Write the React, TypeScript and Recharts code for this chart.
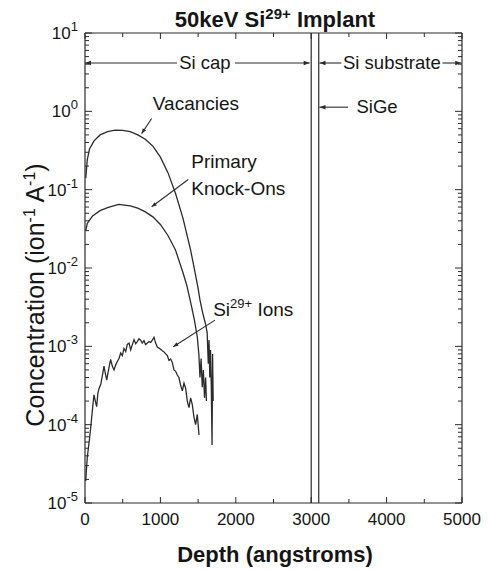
import React from 'react';
import { LineChart, Line, XAxis, YAxis, ReferenceLine, ReferenceDot } from 'recharts';

// ---------- axis structure ----------
const xTicks = [0, 1000, 2000, 3000, 4000, 5000];
const xMinorTicks = [500, 1500, 2500, 3500, 4500];
const yDecades = [1e-5, 1e-4, 1e-3, 1e-2, 1e-1, 1, 10];
const yDecadeLabels = ['-5', '-4', '-3', '-2', '-1', '0', '1'];
const yMinorMultipliers = [2, 3, 4, 5, 6, 7, 8, 9];
const yMinorTicks = yDecades.slice(0, -1).flatMap((d) => yMinorMultipliers.map((m) => m * d));

// ---------- series ----------
const vacDepth = [10, 30, 60, 120, 200, 300, 400, 500, 600, 700, 800, 900, 1000, 1100, 1200, 1300, 1400, 1450, 1500, 1525, 1560, 1600, 1620, 1635, 1645, 1655, 1665, 1675, 1685, 1692, 1700];
const vacConc = [0.14, 0.24, 0.33, 0.42, 0.5, 0.55, 0.575, 0.57, 0.55, 0.5, 0.44, 0.36, 0.26, 0.165, 0.09, 0.043, 0.017, 0.0098, 0.0055, 0.0039, 0.0027, 0.0019, 0.0015, 0.0006, 0.0012, 0.0004, 0.0009, 0.0003, 0.000055, 0.0008, 0.0002];

const pkoDepth = [10, 30, 100, 200, 300, 400, 450, 500, 600, 700, 800, 900, 1000, 1100, 1200, 1300, 1350, 1400, 1450, 1490, 1510, 1525, 1540, 1555, 1570, 1585, 1600, 1610];
const pkoConc = [0.03, 0.037, 0.046, 0.054, 0.059, 0.063, 0.065, 0.064, 0.062, 0.058, 0.052, 0.045, 0.036, 0.026, 0.017, 0.0087, 0.006, 0.0037, 0.0022, 0.0013, 0.0008, 0.0004, 0.0007, 0.0003, 0.0005, 0.00022, 0.0004, 0.0002];

const ionDepth = [9, 31, 55, 75, 100, 119, 137, 155, 170, 186, 210, 230, 252, 270, 288, 315, 340, 362, 385, 407, 429, 451, 473, 495, 517, 540, 561, 584, 606, 628, 650, 672, 694, 716, 738, 760, 782, 804, 826, 849, 871, 893, 915, 937, 959, 981, 1003, 1025, 1048, 1070, 1092, 1114, 1136, 1158, 1180, 1202, 1224, 1246, 1268, 1291, 1313, 1335, 1357, 1379, 1401, 1423, 1445, 1467, 1489, 1512];
const ionConc = [1.9e-5, 3.9e-5, 6e-5, 9e-5, 1.6e-4, 2.4e-4, 2.0e-4, 1.7e-4, 2.5e-4, 2.9e-4, 3.3e-4, 4.2e-4, 5.6e-4, 4.5e-4, 3.7e-4, 5.2e-4, 6.8e-4, 5.6e-4, 5.0e-4, 5.8e-4, 6.4e-4, 7.0e-4, 8.2e-4, 7.6e-4, 9.4e-4, 8.6e-4, 1.06e-3, 1.1e-3, 9.0e-4, 1.05e-3, 1.22e-3, 1.08e-3, 1.15e-3, 1.25e-3, 1.2e-3, 1.1e-3, 1.18e-3, 1.05e-3, 1.1e-3, 1.15e-3, 1.12e-3, 1.2e-3, 1.3e-3, 1.1e-3, 9.8e-4, 9.5e-4, 9.2e-4, 8.8e-4, 8.5e-4, 8.0e-4, 7.6e-4, 6.6e-4, 6.9e-4, 6.2e-4, 5.0e-4, 4.8e-4, 4.3e-4, 4.0e-4, 3.2e-4, 2.7e-4, 3.4e-4, 2.9e-4, 2.0e-4, 1.65e-4, 2.2e-4, 1.8e-4, 1.25e-4, 1.0e-4, 1.35e-4, 7.4e-5];

// ---------- layers & annotations (data coordinates) ----------
const layerBoundaries = [3000, 3100];
const capArrowY = 4.14;
const capLeft = [0, 1220];
const capRight = [1990, 2980];
const capLabel = { x: 1590, text: 'Si cap' };
const subLeft = [3110, 3400];
const subRight = [4740, 4990];
const subLabel = { x: 4070, text: 'Si substrate' };
const sigeY = 1.13;
const sigeArrow = [3490, 3110];
const sigeLabel = { x: 3600, text: 'SiGe' };

const vacPointer = { from: [884, 0.81], to: [751, 0.52] };
const vacText = { x: 900, y: 1.05, text: 'Vacancies' };
const pkoPointer = { from: [1370, 0.135], to: [884, 0.0605] };
const pkoText = { x: 1410, y: 0.19, line1: 'Primary', line2: 'Knock-Ons' };
const ionPointer = { from: [1724, 0.00216], to: [1171, 0.00099] };
const ionText = { x: 1700, y: 0.00245, base: 'Si', sup: '29+', rest: ' Ions' };

const W = 488;
const H = 570;
const FONT = '"Liberation Sans", Arial, Helvetica, sans-serif';
const INK = '#2b2b2b';
const TXT = '#151515';

const toXY = (xs: number[], ys: number[]) => xs.map((x, i) => ({ x, y: ys[i] }));
const vacData = toXY(vacDepth, vacConc);
const pkoData = toXY(pkoDepth, pkoConc);
const ionData = toXY(ionDepth, ionConc);

const isDecade = (v: number) => Math.abs(Math.log10(v) - Math.round(Math.log10(v))) < 1e-6;

const head = (tx: number, ty: number, fx: number, fy: number, len = 6, hw = 2.3) => {
  const dx = tx - fx;
  const dy = ty - fy;
  const d = Math.hypot(dx, dy) || 1;
  const ux = dx / d;
  const uy = dy / d;
  const bx = tx - ux * len;
  const by = ty - uy * len;
  const px = -uy * hw;
  const py = ux * hw;
  return `${tx},${ty} ${bx + px},${by + py} ${bx - px},${by - py}`;
};

const arrowShape = (startHead: boolean, endHead: boolean, len = 6, hw = 2.3) => (p: any) => {
  const { x1, y1, x2, y2 } = p;
  return (
    <g>
      <line x1={x1} y1={y1} x2={x2} y2={y2} stroke={INK} strokeWidth={1.1} />
      {endHead && <polygon points={head(x2, y2, x1, y1, len, hw)} fill={INK} />}
      {startHead && <polygon points={head(x1, y1, x2, y2, len, hw)} fill={INK} />}
    </g>
  );
};

const textLabel = (text: string, anchor: 'start' | 'middle' | 'end', dy = 6, size = 18.5) => (p: any) => {
  const vb = p.viewBox || {};
  return (
    <text x={vb.x} y={vb.y + dy} textAnchor={anchor} fontSize={size} fill={TXT} fontFamily={FONT}>
      {text}
    </text>
  );
};

const tickMaker = (side: 'bottom' | 'top' | 'left' | 'right', majorFn: (v: number) => boolean, major: number, minor: number) => (p: any) => {
  const { x, y, payload } = p;
  const len = majorFn(payload.value) ? major : minor;
  let x2 = x;
  let y2 = y;
  if (side === 'bottom') y2 = y - len;
  if (side === 'top') y2 = y + len;
  if (side === 'left') x2 = x + len;
  if (side === 'right') x2 = x - len;
  return <line x1={x} y1={y} x2={x2} y2={y2} stroke={INK} strokeWidth={1} />;
};

const isXMajor = (v: number) => v % 1000 === 0;

const YLabelTick = (p: any) => {
  const { x, y, payload } = p;
  const idx = yDecades.findIndex((d) => Math.abs(d - payload.value) / d < 1e-6);
  const exp = idx >= 0 ? yDecadeLabels[idx] : '';
  return (
    <text x={x} y={y + 6} textAnchor="end" fontSize={17} fill={TXT} fontFamily={FONT}>
      <tspan>10</tspan>
      <tspan dy={-8} fontSize={13}>{exp}</tspan>
    </text>
  );
};

const XLabelTick = (p: any) => {
  const { x, y, payload } = p;
  return (
    <text x={x} y={y} dy="0.71em" textAnchor="middle" fontSize={17} fill={TXT} fontFamily={FONT}>
      {payload.value}
    </text>
  );
};

export default function App() {
  const xDomain: [number, number] = [0, 5000];
  const yDomain: [number, number] = [1e-5, 10];
  const allY = [...yDecades, ...yMinorTicks];
  const allX = [...xTicks, ...xMinorTicks];
  return (
    <div style={{ position: 'absolute', left: 0, top: 0, width: W, height: H, background: '#fff', fontFamily: FONT }}>
      <LineChart width={W} height={H} margin={{ top: 33, right: 26, bottom: 37, left: 23 }}>
        {/* main label axes */}
        <XAxis xAxisId="x" dataKey="x" type="number" domain={xDomain} ticks={xTicks} allowDataOverflow
          height={30} tickSize={0} tickMargin={10} tickLine={false} axisLine={{ stroke: INK, strokeWidth: 1.2 }} tick={XLabelTick} interval={0} />
        <YAxis yAxisId="y" type="number" scale="log" domain={yDomain} ticks={yDecades} allowDataOverflow
          width={62} tickSize={0} tickMargin={7} tickLine={false} axisLine={{ stroke: INK, strokeWidth: 1.2 }} tick={YLabelTick} interval={0} />
        {/* inward tick axes */}
        <XAxis xAxisId="xb" dataKey="x" type="number" domain={xDomain} ticks={allX} allowDataOverflow mirror
          orientation="bottom" tickSize={0} tickMargin={0} tickLine={false} axisLine={false} tick={tickMaker('bottom', isXMajor, 6, 4)} interval={0} />
        <XAxis xAxisId="xt" dataKey="x" type="number" domain={xDomain} ticks={allX} allowDataOverflow mirror
          orientation="top" tickSize={0} tickMargin={0} tickLine={false} axisLine={{ stroke: INK, strokeWidth: 1.2 }} tick={tickMaker('top', isXMajor, 6, 4)} interval={0} />
        <YAxis yAxisId="yl" type="number" scale="log" domain={yDomain} ticks={allY} allowDataOverflow mirror
          orientation="left" tickSize={0} tickMargin={0} tickLine={false} axisLine={false} tick={tickMaker('left', isDecade, 7, 4)} interval={0} />
        <YAxis yAxisId="yr" type="number" scale="log" domain={yDomain} ticks={allY} allowDataOverflow mirror
          orientation="right" tickSize={0} tickMargin={0} tickLine={false} axisLine={{ stroke: INK, strokeWidth: 1.2 }} tick={tickMaker('right', isDecade, 7, 4)} interval={0} />

        {layerBoundaries.map((b) => (
          <ReferenceLine key={b} xAxisId="x" yAxisId="y" x={b} stroke={INK} strokeWidth={1.2} />
        ))}

        <Line xAxisId="x" yAxisId="y" data={vacData} dataKey="y" stroke={INK} strokeWidth={1.3} dot={false} isAnimationActive={false} type="linear" />
        <Line xAxisId="x" yAxisId="y" data={pkoData} dataKey="y" stroke={INK} strokeWidth={1.3} dot={false} isAnimationActive={false} type="linear" />
        <Line xAxisId="x" yAxisId="y" data={ionData} dataKey="y" stroke={INK} strokeWidth={1.3} dot={false} isAnimationActive={false} type="linear" />

        {/* layer dimension arrows */}
        <ReferenceLine xAxisId="x" yAxisId="y" segment={[{ x: capLeft[1], y: capArrowY }, { x: capLeft[0], y: capArrowY }]} shape={arrowShape(false, true)} />
        <ReferenceLine xAxisId="x" yAxisId="y" segment={[{ x: capRight[0], y: capArrowY }, { x: capRight[1], y: capArrowY }]} shape={arrowShape(false, true)} />
        <ReferenceDot xAxisId="x" yAxisId="y" x={capLabel.x} y={capArrowY} r={0} fill="none" stroke="none" label={textLabel(capLabel.text, 'middle')} />
        <ReferenceLine xAxisId="x" yAxisId="y" segment={[{ x: subLeft[1], y: capArrowY }, { x: subLeft[0], y: capArrowY }]} shape={arrowShape(false, true)} />
        <ReferenceLine xAxisId="x" yAxisId="y" segment={[{ x: subRight[0], y: capArrowY }, { x: subRight[1], y: capArrowY }]} shape={arrowShape(false, true)} />
        <ReferenceDot xAxisId="x" yAxisId="y" x={subLabel.x} y={capArrowY} r={0} fill="none" stroke="none" label={textLabel(subLabel.text, 'middle')} />
        <ReferenceLine xAxisId="x" yAxisId="y" segment={[{ x: sigeArrow[0], y: sigeY }, { x: sigeArrow[1], y: sigeY }]} shape={arrowShape(false, true)} />
        <ReferenceDot xAxisId="x" yAxisId="y" x={sigeLabel.x} y={sigeY} r={0} fill="none" stroke="none" label={textLabel(sigeLabel.text, 'start')} />

        {/* curve pointers */}
        <ReferenceLine xAxisId="x" yAxisId="y" segment={[{ x: vacPointer.from[0], y: vacPointer.from[1] }, { x: vacPointer.to[0], y: vacPointer.to[1] }]} shape={arrowShape(false, true, 5, 2)} />
        <ReferenceDot xAxisId="x" yAxisId="y" x={vacText.x} y={vacText.y} r={0} fill="none" stroke="none" label={textLabel(vacText.text, 'start', 0, 19)} />
        <ReferenceLine xAxisId="x" yAxisId="y" segment={[{ x: pkoPointer.from[0], y: pkoPointer.from[1] }, { x: pkoPointer.to[0], y: pkoPointer.to[1] }]} shape={arrowShape(false, true, 5, 2)} />
        <ReferenceDot xAxisId="x" yAxisId="y" x={pkoText.x} y={pkoText.y} r={0} fill="none" stroke="none"
          label={(p: any) => {
            const vb = p.viewBox || {};
            return (
              <text x={vb.x} y={vb.y} fontSize={19} fill={TXT} fontFamily={FONT}>
                <tspan x={vb.x} dy={0}>{pkoText.line1}</tspan>
                <tspan x={vb.x} dy={27}>{pkoText.line2}</tspan>
              </text>
            );
          }} />
        <ReferenceLine xAxisId="x" yAxisId="y" segment={[{ x: ionPointer.from[0], y: ionPointer.from[1] }, { x: ionPointer.to[0], y: ionPointer.to[1] }]} shape={arrowShape(false, true, 5, 2)} />
        <ReferenceDot xAxisId="x" yAxisId="y" x={ionText.x} y={ionText.y} r={0} fill="none" stroke="none"
          label={(p: any) => {
            const vb = p.viewBox || {};
            return (
              <text x={vb.x} y={vb.y} fontSize={19} fill={TXT} fontFamily={FONT}>
                <tspan>{ionText.base}</tspan>
                <tspan dy={-8} fontSize={13}>{ionText.sup}</tspan>
                <tspan dy={8}>{ionText.rest}</tspan>
              </text>
            );
          }} />
      </LineChart>
      <svg width={W} height={H} style={{ position: 'absolute', left: 0, top: 0, pointerEvents: 'none' }}>
        <text x={275} y={27} textAnchor="middle" fontSize={22} fontWeight="bold" fill={TXT} fontFamily={FONT}>
          <tspan>50keV Si</tspan>
          <tspan dy={-8} fontSize={15}>29+</tspan>
          <tspan dy={8}> Implant</tspan>
        </text>
        <text x={275} y={562} textAnchor="middle" fontSize={22} fontWeight="bold" fill={TXT} fontFamily={FONT}>
          Depth (angstroms)
        </text>
        <text transform="translate(44,295) rotate(-90)" textAnchor="middle" fontSize={25} fill={TXT} fontFamily={FONT}>
          <tspan>Concentration (ion</tspan>
          <tspan dy={-9} fontSize={16}>-1</tspan>
          <tspan dy={9}> A</tspan>
          <tspan dy={-9} fontSize={16}>-1</tspan>
          <tspan dy={9}>)</tspan>
        </text>
      </svg>
    </div>
  );
}
